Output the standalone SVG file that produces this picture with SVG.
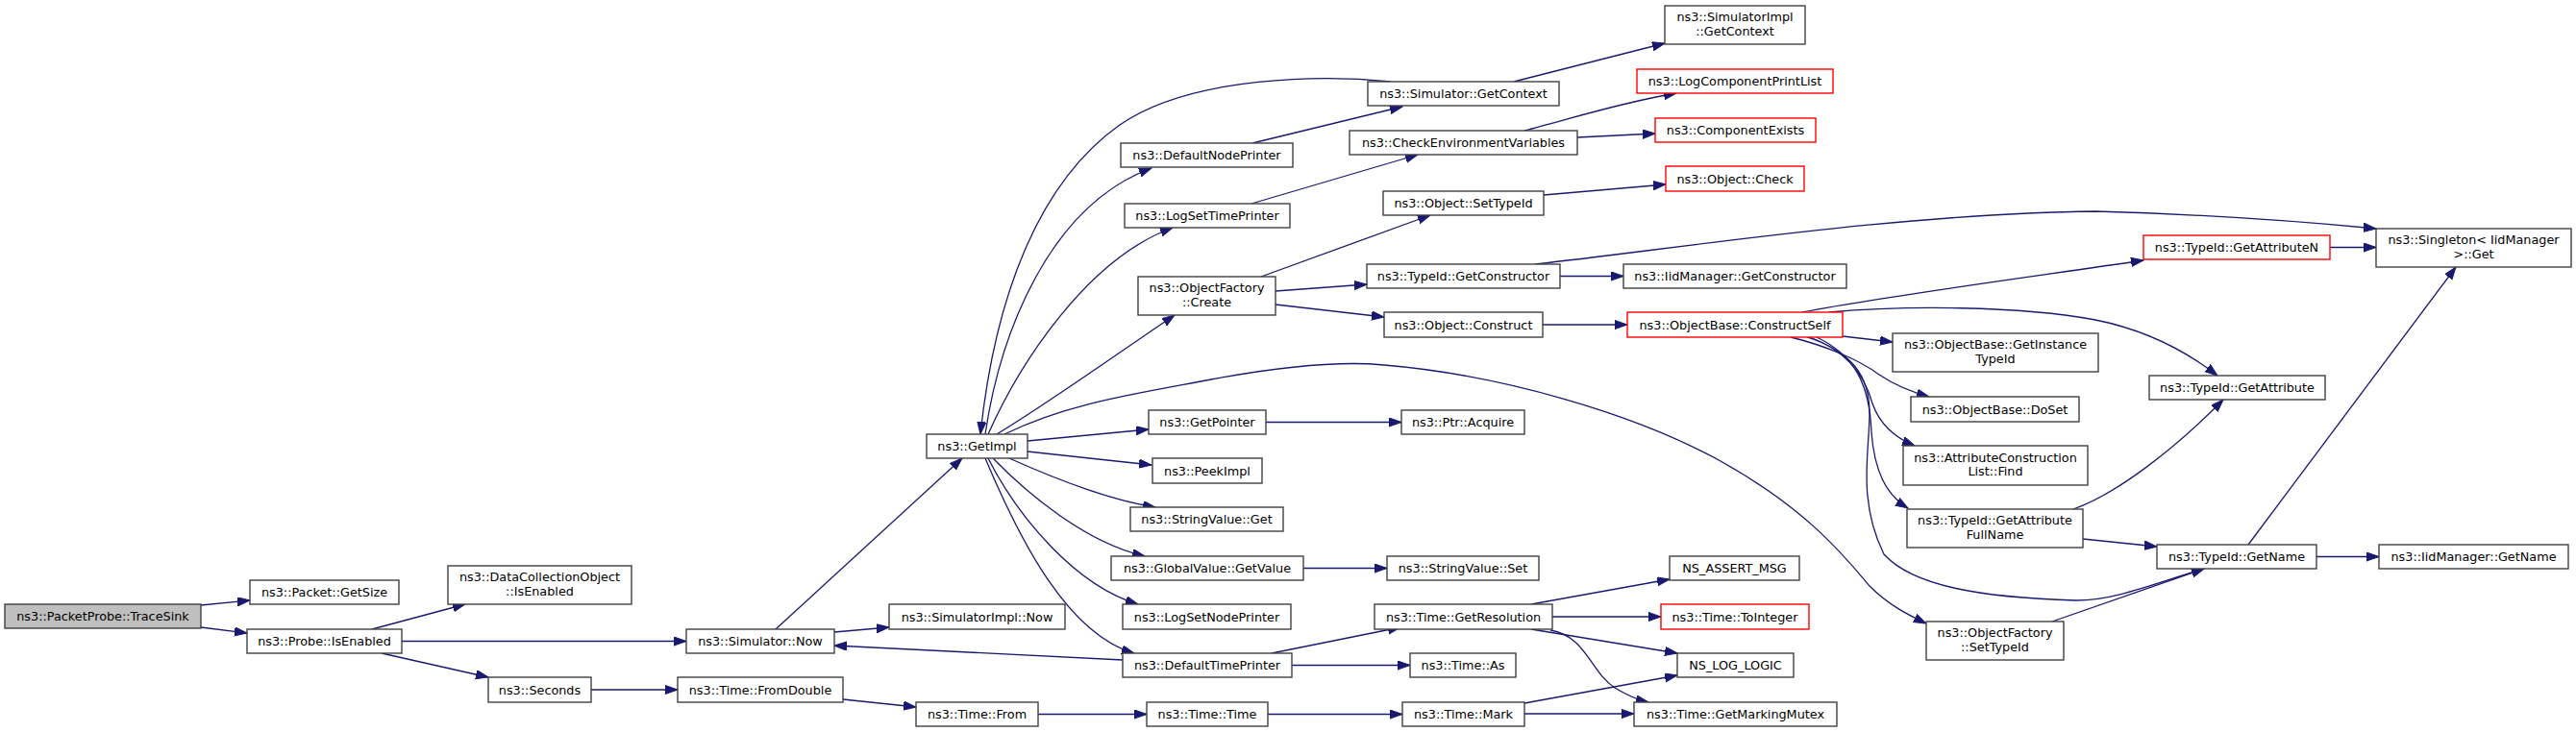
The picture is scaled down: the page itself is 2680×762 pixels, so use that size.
<svg xmlns="http://www.w3.org/2000/svg" width="2680" height="762" viewBox="0 0 2680 762">
<defs>
<style>
.n rect{fill:#ffffff;stroke:#404040;stroke-width:1.4}
.n.r rect{stroke:#ff0000}
.n.g rect{fill:#bfbfbf}
.n text{font-family:"DejaVu Sans",sans-serif;font-size:12.8px;fill:#000000;text-anchor:middle}
#edges path{fill:none;stroke:#191970;stroke-width:1.3;marker-end:url(#ah)}
</style>
<marker id="ah" markerWidth="15" markerHeight="11" refX="13" refY="4.6" orient="auto" markerUnits="userSpaceOnUse">
<path d="M0,0 L13,4.6 L0,9.2 z" fill="#191970" stroke="#191970" stroke-width="1"/>
</marker>
</defs>
<rect x="0" y="0" width="2680" height="762" fill="#ffffff"/>
<g id="edges">
<path d="M209,630 L260,625"/>
<path d="M209,653 L257,659"/>
<path d="M387,655 L484,629"/>
<path d="M418,667.5 L714,667.5"/>
<path d="M397,680 L508,705"/>
<path d="M807,655 L1001,477"/>
<path d="M868,658 L925,653"/>
<path d="M615,718 L705,718"/>
<path d="M877,728 L953,736"/>
<path d="M1080,743.5 L1193,743.5"/>
<path d="M1319,743.5 L1459,743.5"/>
<path d="M1586,732 L1745,703"/>
<path d="M1586,743 L1700,743"/>
<path d="M1447,85 C1380,78 1240,78 1165,130 C1080,190 1035,310 1020,452"/>
<path d="M1025,452 C1040,350 1090,215 1198,175"/>
<path d="M1028,452 C1060,380 1130,270 1220,237"/>
<path d="M1037,452 C1090,420 1160,370 1222,328"/>
<path d="M1045,452 C1110,420 1180,410 1260,395 C1330,382 1390,375 1440,380 C1560,390 1700,430 1790,480 C1880,530 1920,580 1945,610 C1965,630 1985,640 2004,649"/>
<path d="M1069,459 L1195,447"/>
<path d="M1069,470 L1198,484"/>
<path d="M1050,477 C1090,495 1150,520 1202,528"/>
<path d="M1033,477 C1070,515 1130,565 1191,579"/>
<path d="M1028,477 C1060,540 1120,610 1184,629"/>
<path d="M1025,477 C1060,560 1110,660 1180,680"/>
<path d="M1168,687 L868,672"/>
<path d="M1323,680 L1457,653"/>
<path d="M1344,692.5 L1467,692.5"/>
<path d="M1593,629 L1737,603"/>
<path d="M1615,642 L1728,642"/>
<path d="M1593,655 L1745,680"/>
<path d="M1613,656 C1650,662 1655,700 1680,716 C1695,725 1705,729 1715,731"/>
<path d="M1303,149 L1459,111"/>
<path d="M1575,85 L1732,45"/>
<path d="M1302,212 L1475,161"/>
<path d="M1586,136 C1630,125 1680,108 1744,97"/>
<path d="M1641,143 L1722,139"/>
<path d="M1312,288 L1488,224"/>
<path d="M1327,303 L1422,296"/>
<path d="M1327,317 L1440,330"/>
<path d="M1606,203 L1733,192"/>
<path d="M1623,287.5 L1689,287.5"/>
<path d="M1597,275 C1750,258 1980,222 2180,220 C2290,223 2390,230 2472,238"/>
<path d="M1605,338 L1693,338"/>
<path d="M1875,325 C1950,310 2100,290 2230,271"/>
<path d="M1903,325 C1980,318 2100,318 2180,333 C2240,345 2280,370 2307,391"/>
<path d="M1917,350 L1969,356"/>
<path d="M1863,351 C1900,360 1935,375 1955,390 C1970,400 1985,407 2007,413"/>
<path d="M1883,351 C1920,365 1940,390 1948,420 C1955,440 1970,455 1992,464"/>
<path d="M1890,351 C1930,370 1945,400 1947,450 C1950,490 1962,515 1985,529"/>
<path d="M1880,351 C1925,365 1945,390 1945,430 C1945,470 1932,520 1960,577 C1990,610 2060,622 2160,625 C2200,625 2240,608 2293,592"/>
<path d="M2167,561 L2244,569"/>
<path d="M2157,530 C2200,515 2260,470 2313,416"/>
<path d="M2135,647 L2293,592"/>
<path d="M2339,567 L2555,278"/>
<path d="M2410,579.5 L2475,579.5"/>
<path d="M2424,257.5 L2472,257.5"/>
<path d="M1317,439.5 L1458,439.5"/>
<path d="M1356,591.5 L1443,591.5"/>
</g>
<g id="n1" class="n g"><rect x="5" y="629" width="204" height="25"/><text x="107" y="646">ns3::PacketProbe::TraceSink</text></g>
<g id="n2" class="n"><rect x="260" y="604" width="155" height="25"/><text x="337.5" y="621">ns3::Packet::GetSize</text></g>
<g id="n3" class="n"><rect x="257" y="655" width="161" height="25"/><text x="337.5" y="672">ns3::Probe::IsEnabled</text></g>
<g id="n4" class="n"><rect x="466" y="589" width="191" height="40"/><text x="561.5" y="605">ns3::DataCollectionObject</text><text x="561.5" y="619.5">::IsEnabled</text></g>
<g id="n5" class="n"><rect x="714" y="655" width="154" height="25"/><text x="791" y="672">ns3::Simulator::Now</text></g>
<g id="n6" class="n"><rect x="508" y="705" width="107" height="26"/><text x="561.5" y="722.5">ns3::Seconds</text></g>
<g id="n7" class="n"><rect x="705" y="705" width="172" height="26"/><text x="791" y="722.5">ns3::Time::FromDouble</text></g>
<g id="n8" class="n"><rect x="925" y="629" width="183" height="26"/><text x="1016.5" y="646.5">ns3::SimulatorImpl::Now</text></g>
<g id="n9" class="n"><rect x="964" y="452" width="105" height="25"/><text x="1016.5" y="469">ns3::GetImpl</text></g>
<g id="n10" class="n"><rect x="953" y="731" width="127" height="25"/><text x="1016.5" y="748">ns3::Time::From</text></g>
<g id="n11" class="n"><rect x="1423" y="85" width="199" height="25"/><text x="1522.5" y="102">ns3::Simulator::GetContext</text></g>
<g id="n12" class="n"><rect x="1166" y="149" width="179" height="25"/><text x="1255.5" y="166">ns3::DefaultNodePrinter</text></g>
<g id="n13" class="n"><rect x="1170" y="212" width="172" height="25"/><text x="1256" y="229">ns3::LogSetTimePrinter</text></g>
<g id="n14" class="n"><rect x="1184" y="288" width="143" height="40"/><text x="1255.5" y="304">ns3::ObjectFactory</text><text x="1255.5" y="318.5">::Create</text></g>
<g id="n15" class="n"><rect x="1195" y="427" width="122" height="25"/><text x="1256" y="444">ns3::GetPointer</text></g>
<g id="n16" class="n"><rect x="1199" y="477" width="114" height="26"/><text x="1256" y="494.5">ns3::PeekImpl</text></g>
<g id="n17" class="n"><rect x="1176" y="528" width="159" height="25"/><text x="1255.5" y="545">ns3::StringValue::Get</text></g>
<g id="n18" class="n"><rect x="1156" y="579" width="200" height="25"/><text x="1256" y="596">ns3::GlobalValue::GetValue</text></g>
<g id="n19" class="n"><rect x="1168" y="629" width="175" height="26"/><text x="1255.5" y="646.5">ns3::LogSetNodePrinter</text></g>
<g id="n20" class="n"><rect x="1168" y="680" width="176" height="25"/><text x="1256" y="697">ns3::DefaultTimePrinter</text></g>
<g id="n21" class="n"><rect x="1193" y="731" width="126" height="25"/><text x="1256" y="748">ns3::Time::Time</text></g>
<g id="n22" class="n"><rect x="1404" y="136" width="237" height="25"/><text x="1522.5" y="153">ns3::CheckEnvironmentVariables</text></g>
<g id="n23" class="n"><rect x="1439" y="199" width="167" height="25"/><text x="1522.5" y="216">ns3::Object::SetTypeId</text></g>
<g id="n24" class="n"><rect x="1422" y="275" width="201" height="25"/><text x="1522.5" y="292">ns3::TypeId::GetConstructor</text></g>
<g id="n25" class="n"><rect x="1440" y="325" width="165" height="26"/><text x="1522.5" y="342.5">ns3::Object::Construct</text></g>
<g id="n26" class="n"><rect x="1458" y="427" width="128" height="25"/><text x="1522" y="444">ns3::Ptr::Acquire</text></g>
<g id="n27" class="n"><rect x="1443" y="579" width="158" height="25"/><text x="1522" y="596">ns3::StringValue::Set</text></g>
<g id="n28" class="n"><rect x="1430" y="629" width="185" height="26"/><text x="1522.5" y="646.5">ns3::Time::GetResolution</text></g>
<g id="n29" class="n"><rect x="1467" y="680" width="110" height="25"/><text x="1522" y="697">ns3::Time::As</text></g>
<g id="n30" class="n"><rect x="1459" y="731" width="127" height="25"/><text x="1522.5" y="748">ns3::Time::Mark</text></g>
<g id="n31" class="n"><rect x="1732" y="6" width="146" height="40"/><text x="1805" y="22">ns3::SimulatorImpl</text><text x="1805" y="36.5">::GetContext</text></g>
<g id="n32" class="n r"><rect x="1703" y="72" width="204" height="25"/><text x="1805" y="89">ns3::LogComponentPrintList</text></g>
<g id="n33" class="n r"><rect x="1722" y="123" width="167" height="25"/><text x="1805.5" y="140">ns3::ComponentExists</text></g>
<g id="n34" class="n r"><rect x="1733" y="173" width="144" height="26"/><text x="1805" y="190.5">ns3::Object::Check</text></g>
<g id="n35" class="n"><rect x="1689" y="275" width="232" height="25"/><text x="1805" y="292">ns3::IidManager::GetConstructor</text></g>
<g id="n36" class="n r"><rect x="1693" y="325" width="224" height="26"/><text x="1805" y="342.5">ns3::ObjectBase::ConstructSelf</text></g>
<g id="n37" class="n"><rect x="1737" y="579" width="135" height="25"/><text x="1804.5" y="596">NS_ASSERT_MSG</text></g>
<g id="n38" class="n r"><rect x="1728" y="629" width="154" height="26"/><text x="1805" y="646.5">ns3::Time::ToInteger</text></g>
<g id="n39" class="n"><rect x="1745" y="680" width="121" height="25"/><text x="1805.5" y="697">NS_LOG_LOGIC</text></g>
<g id="n40" class="n"><rect x="1700" y="731" width="211" height="25"/><text x="1805.5" y="748">ns3::Time::GetMarkingMutex</text></g>
<g id="n41" class="n"><rect x="1969" y="347" width="214" height="40"/><text x="2076" y="363">ns3::ObjectBase::GetInstance</text><text x="2076" y="377.5">TypeId</text></g>
<g id="n42" class="n"><rect x="1988" y="413" width="175" height="26"/><text x="2075.5" y="430.5">ns3::ObjectBase::DoSet</text></g>
<g id="n43" class="n"><rect x="1980" y="464" width="192" height="41"/><text x="2076" y="480.5">ns3::AttributeConstruction</text><text x="2076" y="495">List::Find</text></g>
<g id="n44" class="n"><rect x="1984" y="530" width="183" height="40"/><text x="2075.5" y="546">ns3::TypeId::GetAttribute</text><text x="2075.5" y="560.5">FullName</text></g>
<g id="n45" class="n"><rect x="2004" y="647" width="143" height="40"/><text x="2075.5" y="663">ns3::ObjectFactory</text><text x="2075.5" y="677.5">::SetTypeId</text></g>
<g id="n46" class="n r"><rect x="2230" y="245" width="194" height="25"/><text x="2327" y="262">ns3::TypeId::GetAttributeN</text></g>
<g id="n47" class="n"><rect x="2236" y="391" width="183" height="25"/><text x="2327.5" y="408">ns3::TypeId::GetAttribute</text></g>
<g id="n48" class="n"><rect x="2244" y="567" width="166" height="25"/><text x="2327" y="584">ns3::TypeId::GetName</text></g>
<g id="n49" class="n"><rect x="2472" y="238" width="203" height="40"/><text x="2573.5" y="254">ns3::Singleton&lt; IidManager</text><text x="2573.5" y="268.5">&gt;::Get</text></g>
<g id="n50" class="n"><rect x="2475" y="567" width="197" height="25"/><text x="2573.5" y="584">ns3::IidManager::GetName</text></g>
</svg>
